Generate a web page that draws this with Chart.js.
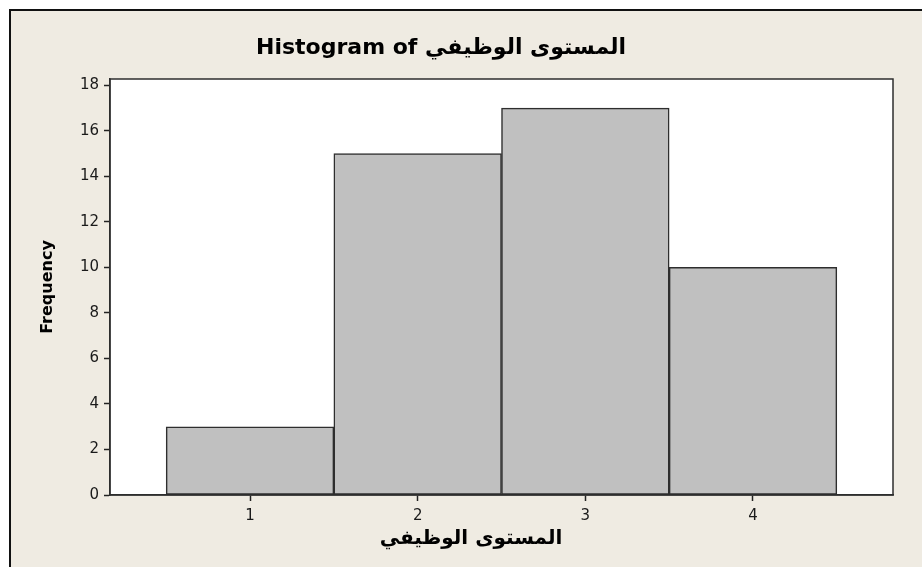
<!DOCTYPE html>
<html>
<head>
<meta charset="utf-8">
<script src="https://cdn.jsdelivr.net/npm/chart.js@4.4.1/dist/chart.umd.min.js"></script>
<style>
    body { margin: 0; background: #ffffff; }
    #frame {
        position: absolute; left: 9px; top: 9px; right: 0; bottom: 0;
        background: #efebe2;
        border-left: 2px solid #111;
        border-top: 2px solid #111;
    }
    #wrap { position: absolute; left: 0; top: 0; width: 922px; height: 567px; }
</style>
</head>
<body>
<div id="frame"></div>
<div id="wrap"><canvas id="hist" width="922" height="567"></canvas></div>
<script>
// data
const binCenters = [1, 2, 3, 4];
const frequencies = [3, 15, 17, 10];
const xTicks = [1, 2, 3, 4];
const yTicks = [0, 2, 4, 6, 8, 10, 12, 14, 16, 18];

const mainTitle = "Histogram of المستوى الوظيفي";
const xTitle = "المستوى الوظيفي";
const yTitle = "Frequency";

const textColor = "#1a1a1a";
const lineColor = "#2e2e2e";

// white plot area, frame around it + centred titles (Minitab style)
const frameAndTitles = {
    id: "frameAndTitles",
    beforeDraw(chart) {
        const { ctx, chartArea } = chart;
        ctx.save();
        ctx.fillStyle = "#ffffff";
        ctx.fillRect(chartArea.left, chartArea.top, chartArea.right - chartArea.left, chartArea.bottom - chartArea.top);
        ctx.restore();
    },
    afterDatasetsDraw(chart) {
        const { ctx, chartArea } = chart;
        ctx.save();
        ctx.strokeStyle = lineColor;
        ctx.lineWidth = 1.5;
        ctx.strokeRect(chartArea.left, chartArea.top, chartArea.right - chartArea.left, chartArea.bottom - chartArea.top);
        ctx.restore();
    },
    afterDraw(chart) {
        const { ctx } = chart;
        ctx.save();
        ctx.fillStyle = "#000";
        ctx.textAlign = "center";
        ctx.textBaseline = "middle";
        ctx.direction = "ltr";
        ctx.font = "bold 22px 'DejaVu Sans'";
        ctx.fillText(mainTitle, 441, 48);
        ctx.font = "bold 20px 'DejaVu Sans'";
        ctx.fillText(xTitle, 471, 539);
        ctx.restore();
    },
};

const ctx = document.getElementById("hist");

new Chart(ctx, {
    type: "bar",
    data: {
        datasets: [
            {
                label: "Frequency",
                data: binCenters.map((x, i) => ({ x: x, y: frequencies[i] })),
                backgroundColor: "#c0c0c0",
                borderColor: lineColor,
                borderWidth: 1.5,
                borderSkipped: false,
                barPercentage: 1,
                categoryPercentage: 1,
            },
        ],
    },
    options: {
        responsive: false,
        animation: false,
        layout: { padding: { top: 79, right: 29, left: 0, bottom: 0 } },
        plugins: {
            legend: { display: false },
            title: { display: false },
            tooltip: { enabled: false },
        },
        scales: {
            x: {
                type: "linear",
                min: 0.165,
                max: 4.835,
                offset: false,
                afterBuildTicks: (scale) => {
                    scale.ticks = xTicks.map((v) => ({ value: v }));
                },
                afterFit: (scale) => {
                    scale.height = 72;
                },
                grid: {
                    offset: false,
                    drawOnChartArea: false,
                    drawTicks: true,
                    tickLength: 6,
                    tickColor: "#222",
                    tickWidth: 1.5,
                },
                border: { display: true, color: lineColor, width: 1.5 },
                ticks: {
                    color: textColor,
                    padding: 6,
                    font: { family: "'DejaVu Sans'", size: 15 },
                    maxRotation: 0,
                },
            },
            y: {
                min: 0,
                max: 18.28,
                afterBuildTicks: (scale) => {
                    scale.ticks = yTicks.map((v) => ({ value: v }));
                },
                afterFit: (scale) => {
                    scale.width = 110;
                },
                grid: {
                    drawOnChartArea: false,
                    drawTicks: true,
                    tickLength: 6,
                    tickColor: "#222",
                    tickWidth: 1.5,
                },
                border: { display: true, color: lineColor, width: 1.5 },
                ticks: {
                    color: textColor,
                    padding: 5,
                    font: { family: "'DejaVu Sans'", size: 15 },
                },
                title: {
                    display: true,
                    text: yTitle,
                    color: "#000",
                    font: { family: "'DejaVu Sans'", size: 16, weight: "bold" },
                    padding: { top: 38, bottom: 0 },
                },
            },
        },
    },
    plugins: [frameAndTitles],
});
</script>
</body>
</html>
